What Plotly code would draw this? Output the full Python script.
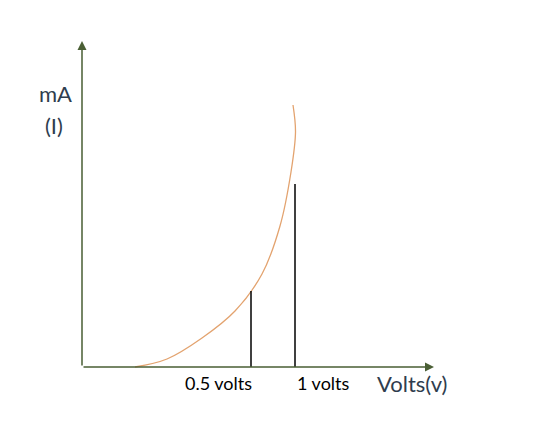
import plotly.graph_objects as go

# Curve (schematic diode I-V characteristic), in chart units from the origin
curve_x = [53, 85, 120, 153, 180, 198, 209, 213.5, 211]
curve_y = [0, 8, 29, 56, 93, 141, 195, 235, 262]

# Vertical marker lines
marker_x = [169, 213]
marker_h = [76, 183]
marker_labels = ["0.5 volts", "1 volts"]
marker_label_x = [136, 241]

axis_x_end = 352
axis_y_end = 326
axis_color = "#4A5F35"
text_color = "#2F3D4E"
font_family = "Lato, 'Open Sans', sans-serif"

fig = go.Figure()

fig.add_trace(go.Scatter(x=curve_x, y=curve_y, mode="lines",
                         line=dict(color="#E3A36F", width=1.3, shape="spline", smoothing=1.0),
                         hoverinfo="skip", showlegend=False))

for mx, mh in zip(marker_x, marker_h):
    fig.add_trace(go.Scatter(x=[mx, mx], y=[0, mh], mode="lines",
                             line=dict(color="black", width=1.5),
                             hoverinfo="skip", showlegend=False))

annotations = []
# axes with arrows
annotations.append(dict(x=axis_x_end, y=0, ax=0, ay=0, xref="x", yref="y", axref="x", ayref="y",
                        showarrow=True, arrowhead=2, arrowsize=1.2, arrowwidth=1.5,
                        arrowcolor=axis_color, text=""))
annotations.append(dict(x=0, y=axis_y_end, ax=0, ay=0, xref="x", yref="y", axref="x", ayref="y",
                        showarrow=True, arrowhead=2, arrowsize=1.2, arrowwidth=1.5,
                        arrowcolor=axis_color, text=""))

for lx, lt in zip(marker_label_x, marker_labels):
    annotations.append(dict(x=lx, y=-16, xref="x", yref="y", text=lt, showarrow=False,
                            font=dict(family=font_family, size=18, color="black")))

annotations.append(dict(x=330, y=-16, xref="x", yref="y", text="Volts(v)", showarrow=False,
                        font=dict(family=font_family, size=22, color=text_color)))
annotations.append(dict(x=-27, y=274, xref="x", yref="y", text="mA", showarrow=False,
                        font=dict(family=font_family, size=22, color=text_color)))
annotations.append(dict(x=-28, y=242, xref="x", yref="y", text="(I)", showarrow=False,
                        font=dict(family=font_family, size=22, color=text_color)))

fig.update_layout(
    width=542, height=431,
    margin=dict(l=0, r=0, t=0, b=0),
    paper_bgcolor="white", plot_bgcolor="white",
    xaxis=dict(range=[-74, 468], visible=False, fixedrange=True),
    yaxis=dict(range=[-72, 359], visible=False, fixedrange=True),
    annotations=annotations,
    showlegend=False,
)

fig.write_html("out.html")
